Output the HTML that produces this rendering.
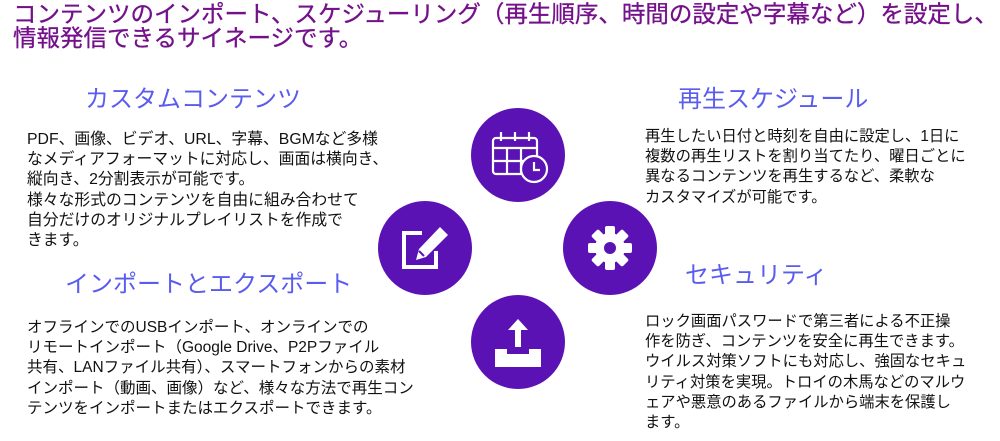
<!DOCTYPE html>
<html><head><meta charset="utf-8"><style>
body{margin:0;width:1000px;height:441px;background:#fff;position:relative;overflow:hidden;font-family:"Liberation Sans","Noto Sans CJK JP",sans-serif;}
.t{position:absolute;white-space:nowrap;}
.title{left:13px;top:2px;font-size:23.5px;line-height:24px;color:#74108a;-webkit-text-stroke:0.3px #74108a;}
.h{font-size:24px;color:#5a5cf0;line-height:28px;}
.b{line-height:20.2px;color:#111;}
.c{position:absolute;width:94px;height:94px;border-radius:50%;background:#5b12b5;}
.c svg{position:absolute;left:0;top:0;}
</style></head><body>
<div class="t title">コンテンツのインポート、スケジューリング（再生順序、時間の設定や字幕など）を設定し、<br>情報発信できるサイネージです。</div>

<div class="t h" style="left:85px;top:86px">カスタムコンテンツ</div>
<div class="t b" style="left:27px;top:130px;font-size:15.8px">PDF、画像、ビデオ、URL、字幕、BGMなど多様<br>なメディアフォーマットに対応し、画面は横向き、<br>縦向き、2分割表示が可能です。<br>様々な形式のコンテンツを自由に組み合わせて<br>自分だけのオリジナルプレイリストを作成で<br>きます。</div>

<div class="t h" style="left:65px;top:271px">インポートとエクスポート</div>
<div class="t b" style="left:27px;top:318px;font-size:15.5px">オフラインでのUSBインポート、オンラインでの<br>リモートインポート（Google Drive、P2Pファイル<br>共有、LANファイル共有）、スマートフォンからの素材<br>インポート（動画、画像）など、様々な方法で再生コン<br>テンツをインポートまたはエクスポートできます。</div>

<div class="t h" style="left:678px;top:86px">再生スケジュール</div>
<div class="t b" style="left:645px;top:127px;font-size:15.3px">再生したい日付と時刻を自由に設定し、1日に<br>複数の再生リストを割り当てたり、曜日ごとに<br>異なるコンテンツを再生するなど、柔軟な<br>カスタマイズが可能です。</div>

<div class="t h" style="left:685px;top:262px">セキュリティ</div>
<div class="t b" style="left:645px;top:312px;font-size:15.3px">ロック画面パスワードで第三者による不正操<br>作を防ぎ、コンテンツを安全に再生できます。<br>ウイルス対策ソフトにも対応し、強固なセキュ<br>リティ対策を実現。トロイの木馬などのマルウ<br>ェアや悪意のあるファイルから端末を保護し<br>ます。</div>

<div class="c" style="left:471px;top:108px"><svg width="94" height="94" viewBox="0 0 94 94" fill="none" stroke="#fff" stroke-width="2.2">
<rect x="22" y="30" width="44" height="36" rx="3"/><line x1="22" y1="40" x2="66" y2="40"/>
<line x1="30" y1="24" x2="30" y2="33"/><line x1="44" y1="24" x2="44" y2="33"/><line x1="58" y1="24" x2="58" y2="33"/>
<line x1="22" y1="53" x2="66" y2="53"/><line x1="36" y1="40" x2="36" y2="66"/><line x1="50" y1="40" x2="50" y2="66"/>
<circle cx="63" cy="61" r="13" fill="#5b12b5"/><polyline points="63,54 63,62 69,62"/></svg></div>

<div class="c" style="left:378px;top:201px"><svg width="94" height="94" viewBox="0 0 94 94">
<path d="M44 32 H26 V66 H58 V50" fill="none" stroke="#fff" stroke-width="4"/>
<path d="M62 26 L70 34 L48 56 L38 59 L41 48 Z" fill="#fff"/><path d="M41 50 L46 55" stroke="#5b12b5" stroke-width="2"/></svg></div>

<div class="c" style="left:563px;top:201px"><svg width="94" height="94" viewBox="0 0 94 94">
<g fill="#fff" transform="translate(47 47)">
<circle r="15"/>
<rect x="-5" y="-22" width="10" height="44" rx="2"/>
<rect x="-5" y="-22" width="10" height="44" rx="2" transform="rotate(45)"/>
<rect x="-5" y="-22" width="10" height="44" rx="2" transform="rotate(90)"/>
<rect x="-5" y="-22" width="10" height="44" rx="2" transform="rotate(135)"/>
<circle r="6" fill="#5b12b5"/></g></svg></div>

<div class="c" style="left:471px;top:295px"><svg width="94" height="94" viewBox="0 0 94 94">
<path d="M24 54 H36 V59 H58 V54 H70 V72 H24 Z" fill="#fff"/>
<rect x="44" y="32" width="6" height="20" fill="#fff"/><path d="M37 35 L47 24 L57 35 Z" fill="#fff"/></svg></div>
</body></html>
